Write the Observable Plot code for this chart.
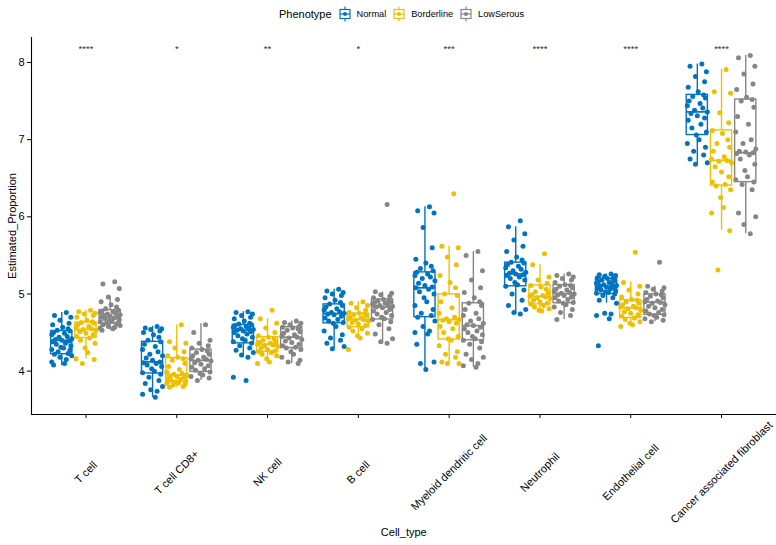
<!DOCTYPE html>
<html>
<head>
<meta charset="utf-8">
<script src="https://cdn.jsdelivr.net/npm/d3@7"></script>
<script src="https://cdn.jsdelivr.net/npm/@observablehq/plot@0.6"></script>
<style>
  html, body { margin: 0; padding: 0; background: #fff; }
  #wrap { position: relative; width: 776px; height: 545px; font-family: "Liberation Sans", Arial, sans-serif; }
  #legend { position: absolute; left: 279px; top: 5px; display: flex; align-items: center; height: 18px; color: #000; }
  #legend .title { font-size: 11px; margin-right: 7px; }
  #legend .lab { font-size: 9.2px; margin-left: 6px; margin-right: 7px; }
  #chart { position: absolute; left: 0; top: 0; }
</style>
</head>
<body>
<div id="wrap">
  <div id="chart"></div>
  <div id="legend"></div>
</div>
<script>
// ---------- data ----------
const cellTypes = ["T cell", "T cell CD8+", "NK cell", "B cell", "Myeloid dendritic cell", "Neutrophil", "Endothelial cell", "Cancer associated fibroblast"];
const phenotypes = ["Normal", "Borderline", "LowSerous"];
const phenoColors = ["#0073C2", "#EFC000", "#868686"];
const sigLabels = ["****", "*", "**", "*", "***", "****", "****", "****"];
const sigY = 8.17;
const yTicks = [4, 5, 6, 7, 8];

// box stats per cell type: [whisker low, Q1, median, Q3, whisker high]
const normalBox = [
  [4.07, 4.22, 4.40, 4.52, 4.76],
  [3.66, 3.97, 4.12, 4.38, 4.58],
  [4.18, 4.36, 4.53, 4.60, 4.77],
  [4.29, 4.62, 4.745, 4.865, 5.06],
  [4.00, 4.70, 5.08, 5.28, 6.13],
  [4.735, 5.10, 5.26, 5.406, 5.87],
  [4.88, 5.00, 5.10, 5.20, 5.26],
  [6.68, 7.06, 7.36, 7.58, 7.98]
];
const borderlineBox = [
  [4.16, 4.43, 4.54, 4.63, 4.79],
  [3.79, 3.86, 3.95, 4.17, 4.60],
  [4.10, 4.25, 4.35, 4.44, 4.68],
  [4.43, 4.57, 4.67, 4.745, 4.90],
  [4.10, 4.41, 4.667, 4.995, 5.62],
  [4.78, 4.865, 4.97, 5.11, 5.38],
  [4.58, 4.69, 4.82, 4.92, 5.155],
  [5.825, 6.405, 6.733, 7.12, 7.91]
];
const lowSerousBox = [
  [4.53, 4.615, 4.70, 4.79, 4.96],
  [3.88, 3.99, 4.14, 4.28, 4.615],
  [4.10, 4.30, 4.44, 4.57, 4.65],
  [4.355, 4.67, 4.83, 4.93, 5.025],
  [4.05, 4.40, 4.59, 4.88, 5.55],
  [4.67, 4.88, 5.005, 5.115, 5.26],
  [4.64, 4.73, 4.895, 4.995, 5.10],
  [5.78, 6.45, 6.83, 7.52, 8.09]
];

// individual samples (read from the jittered points)
const normalPoints = [
  [4.76, 4.72, 4.70, 4.66, 4.62, 4.60, 4.57, 4.55, 4.53, 4.52, 4.50, 4.49, 4.47, 4.45, 4.44, 4.42, 4.41, 4.40, 4.39, 4.38, 4.36, 4.35, 4.33, 4.31, 4.30, 4.28, 4.27, 4.25, 4.23, 4.22, 4.20, 4.18, 4.15, 4.12, 4.10, 4.08],
  [4.58, 4.56, 4.55, 4.54, 4.52, 4.50, 4.47, 4.44, 4.40, 4.38, 4.35, 4.32, 4.28, 4.25, 4.22, 4.20, 4.17, 4.14, 4.12, 4.11, 4.10, 4.08, 4.06, 4.03, 4.00, 3.98, 3.96, 3.92, 3.88, 3.84, 3.80, 3.76, 3.74, 3.70, 3.66],
  [4.77, 4.76, 4.74, 4.72, 4.70, 4.68, 4.65, 4.62, 4.61, 4.60, 4.59, 4.58, 4.57, 4.56, 4.55, 4.54, 4.53, 4.52, 4.51, 4.50, 4.48, 4.46, 4.44, 4.42, 4.40, 4.38, 4.36, 4.33, 4.30, 4.27, 4.24, 4.21, 4.18, 3.92, 3.88],
  [5.06, 5.04, 5.02, 5.00, 4.98, 4.95, 4.92, 4.89, 4.87, 4.85, 4.83, 4.81, 4.79, 4.77, 4.76, 4.75, 4.74, 4.73, 4.71, 4.69, 4.67, 4.65, 4.63, 4.62, 4.58, 4.52, 4.47, 4.43, 4.40, 4.36, 4.32, 4.29],
  [6.13, 6.08, 6.05, 5.86, 5.60, 5.45, 5.40, 5.36, 5.33, 5.30, 5.28, 5.26, 5.24, 5.22, 5.20, 5.17, 5.14, 5.11, 5.09, 5.08, 5.06, 5.03, 5.00, 4.95, 4.90, 4.85, 4.80, 4.75, 4.72, 4.70, 4.65, 4.58, 4.52, 4.50, 4.48, 4.35, 4.12, 4.10, 4.02],
  [5.95, 5.87, 5.78, 5.70, 5.62, 5.55, 5.48, 5.44, 5.41, 5.40, 5.38, 5.36, 5.34, 5.32, 5.30, 5.28, 5.27, 5.26, 5.25, 5.24, 5.22, 5.20, 5.18, 5.15, 5.12, 5.10, 5.05, 5.00, 4.92, 4.85, 4.80, 4.76, 4.74],
  [5.26, 5.25, 5.24, 5.23, 5.22, 5.21, 5.20, 5.19, 5.18, 5.17, 5.16, 5.15, 5.14, 5.13, 5.12, 5.11, 5.10, 5.09, 5.08, 5.07, 5.06, 5.05, 5.04, 5.03, 5.02, 5.01, 5.00, 4.98, 4.95, 4.92, 4.88, 4.75, 4.74, 4.72, 4.68, 4.33],
  [7.98, 7.95, 7.88, 7.82, 7.75, 7.68, 7.62, 7.58, 7.56, 7.54, 7.50, 7.47, 7.44, 7.41, 7.38, 7.36, 7.34, 7.31, 7.28, 7.25, 7.20, 7.15, 7.10, 7.06, 7.00, 6.95, 6.90, 6.85, 6.80, 6.75, 6.70, 6.68]
];
const borderlinePoints = [
  [4.79, 4.77, 4.75, 4.74, 4.72, 4.70, 4.66, 4.64, 4.63, 4.62, 4.60, 4.58, 4.56, 4.55, 4.54, 4.53, 4.51, 4.49, 4.47, 4.45, 4.43, 4.40, 4.36, 4.30, 4.24, 4.16, 4.15, 4.10],
  [4.60, 4.38, 4.36, 4.30, 4.25, 4.20, 4.18, 4.16, 4.14, 4.10, 4.06, 4.02, 3.99, 3.97, 3.96, 3.95, 3.94, 3.93, 3.92, 3.90, 3.89, 3.88, 3.87, 3.86, 3.85, 3.84, 3.83, 3.82, 3.80, 3.79],
  [4.79, 4.68, 4.62, 4.56, 4.50, 4.46, 4.44, 4.42, 4.40, 4.38, 4.37, 4.36, 4.35, 4.34, 4.33, 4.32, 4.30, 4.28, 4.26, 4.25, 4.24, 4.22, 4.20, 4.16, 4.12, 4.10],
  [4.90, 4.88, 4.85, 4.82, 4.79, 4.76, 4.75, 4.74, 4.73, 4.72, 4.70, 4.69, 4.68, 4.67, 4.66, 4.65, 4.63, 4.61, 4.59, 4.57, 4.55, 4.52, 4.49, 4.46, 4.43, 4.28],
  [6.30, 5.62, 5.60, 5.48, 5.38, 5.24, 5.15, 5.08, 5.00, 4.98, 4.90, 4.82, 4.75, 4.70, 4.68, 4.67, 4.66, 4.64, 4.62, 4.58, 4.55, 4.50, 4.45, 4.42, 4.40, 4.33, 4.25, 4.22, 4.18, 4.12, 4.10, 4.10],
  [5.52, 5.38, 5.22, 5.18, 5.14, 5.11, 5.09, 5.06, 5.03, 5.01, 4.99, 4.98, 4.97, 4.96, 4.95, 4.94, 4.92, 4.90, 4.88, 4.87, 4.85, 4.83, 4.81, 4.79, 4.78],
  [5.54, 5.15, 5.10, 5.05, 5.00, 4.96, 4.93, 4.92, 4.90, 4.88, 4.86, 4.84, 4.83, 4.82, 4.81, 4.79, 4.77, 4.75, 4.73, 4.71, 4.69, 4.67, 4.64, 4.62, 4.60, 4.58],
  [7.91, 7.62, 7.60, 7.35, 7.22, 7.12, 7.08, 7.00, 6.95, 6.90, 6.85, 6.78, 6.75, 6.73, 6.72, 6.70, 6.65, 6.58, 6.52, 6.45, 6.42, 6.40, 6.35, 6.25, 6.12, 6.05, 5.82, 5.31]
];
const lowSerousPoints = [
  [5.16, 5.13, 5.07, 4.96, 4.93, 4.90, 4.86, 4.83, 4.81, 4.79, 4.78, 4.77, 4.76, 4.75, 4.74, 4.73, 4.72, 4.71, 4.70, 4.70, 4.69, 4.68, 4.67, 4.66, 4.65, 4.64, 4.63, 4.62, 4.61, 4.60, 4.59, 4.58, 4.57, 4.56, 4.55, 4.53],
  [4.60, 4.50, 4.40, 4.36, 4.33, 4.30, 4.28, 4.26, 4.24, 4.22, 4.20, 4.18, 4.16, 4.15, 4.14, 4.13, 4.11, 4.09, 4.07, 4.05, 4.03, 4.01, 3.99, 3.97, 3.95, 3.93, 3.91, 3.88],
  [4.65, 4.63, 4.62, 4.60, 4.58, 4.57, 4.56, 4.55, 4.53, 4.51, 4.49, 4.47, 4.45, 4.44, 4.43, 4.41, 4.39, 4.37, 4.35, 4.33, 4.31, 4.30, 4.28, 4.25, 4.22, 4.18, 4.14, 4.12, 4.10],
  [6.16, 5.03, 5.01, 4.99, 4.97, 4.95, 4.93, 4.92, 4.91, 4.90, 4.89, 4.88, 4.87, 4.86, 4.85, 4.84, 4.83, 4.82, 4.80, 4.78, 4.76, 4.74, 4.72, 4.70, 4.68, 4.67, 4.64, 4.60, 4.55, 4.48, 4.42, 4.38, 4.36],
  [5.55, 5.50, 5.30, 5.18, 5.08, 5.02, 4.95, 4.90, 4.88, 4.85, 4.80, 4.75, 4.72, 4.68, 4.65, 4.62, 4.60, 4.59, 4.57, 4.55, 4.52, 4.50, 4.47, 4.45, 4.42, 4.40, 4.38, 4.35, 4.30, 4.22, 4.18, 4.15, 4.10, 4.07, 4.05],
  [5.26, 5.24, 5.22, 5.20, 5.18, 5.15, 5.12, 5.11, 5.10, 5.08, 5.06, 5.05, 5.04, 5.02, 5.01, 5.00, 4.99, 4.98, 4.96, 4.95, 4.93, 4.91, 4.89, 4.88, 4.86, 4.83, 4.80, 4.76, 4.72, 4.67],
  [5.41, 5.10, 5.08, 5.06, 5.04, 5.02, 5.00, 4.99, 4.97, 4.95, 4.93, 4.91, 4.90, 4.89, 4.88, 4.86, 4.84, 4.82, 4.80, 4.78, 4.76, 4.74, 4.73, 4.72, 4.70, 4.68, 4.66, 4.64],
  [8.09, 8.06, 7.95, 7.85, 7.72, 7.65, 7.55, 7.52, 7.50, 7.42, 7.30, 7.20, 7.10, 7.00, 6.95, 6.88, 6.85, 6.84, 6.83, 6.82, 6.80, 6.75, 6.68, 6.60, 6.52, 6.48, 6.45, 6.42, 6.35, 6.05, 6.00, 5.90, 5.78]
];

// horizontal jitter of the points, in category units
const jitterOffsets = [0.05, -0.08, 0.10, -0.02, 0.08, -0.10, 0.01, 0.07, -0.05, 0.09, -0.09, 0.03, -0.11, 0.06, -0.03, 0.11, -0.07, 0.00, 0.08, -0.10, 0.04, -0.06, 0.10, -0.01, 0.02, -0.11, 0.09, -0.04, 0.07, -0.08, 0.11, -0.02, 0.05, -0.11, 0.03, -0.09, 0.10, -0.05, 0.01, -0.07];

// ---------- layout helpers ----------
const dodge = [-0.2667, 0, 0.2667];
const boxHalf = 0.1167;
const boxSets = [normalBox, borderlineBox, lowSerousBox];
const pointSets = [normalPoints, borderlinePoints, lowSerousPoints];

const boxes = [];
const points = [];
phenotypes.forEach((p, pi) => {
  cellTypes.forEach((c, ci) => {
    const [lo, q1, med, q3, hi] = boxSets[pi][ci];
    const xc = ci + dodge[pi];
    boxes.push({phenotype: p, x: xc, x1: xc - boxHalf, x2: xc + boxHalf, lo, q1, med, q3, hi});
    pointSets[pi][ci].forEach((v, k) => {
      points.push({phenotype: p, x: xc + jitterOffsets[k % jitterOffsets.length], y: v});
    });
  });
});

const font = "'Liberation Sans', Arial, sans-serif";

const chart = Plot.plot({
  width: 776,
  height: 545,
  marginLeft: 31,
  marginRight: 0.5,
  marginTop: 37,
  marginBottom: 131,
  style: {fontFamily: font, fontSize: "11px", color: "#000", background: "#fff", overflow: "visible"},
  x: {type: "linear", domain: [-0.6, 7.6], axis: null},
  y: {domain: [3.438, 8.324], axis: null},
  color: {domain: phenotypes, range: phenoColors},
  marks: [
    Plot.ruleX(boxes, {x: "x", y1: "lo", y2: "hi", stroke: "phenotype", strokeWidth: 1.4}),
    Plot.rect(boxes, {x1: "x1", x2: "x2", y1: "q1", y2: "q3", fill: "white", stroke: "phenotype", strokeWidth: 1.4}),
    Plot.ruleY(boxes, {y: "med", x1: "x1", x2: "x2", stroke: "phenotype", strokeWidth: 1.7}),
    Plot.dot(points, {x: "x", y: "y", fill: "phenotype", r: 2.5}),
    Plot.text(cellTypes, {x: (d, i) => i, y: () => sigY, text: (d, i) => sigLabels[i], fontSize: 9.5, fill: "#333"}),
    Plot.frame({anchor: "left", stroke: "#000", strokeWidth: 1.1}),
    Plot.frame({anchor: "bottom", stroke: "#000", strokeWidth: 1.1}),
    Plot.axisY({ticks: yTicks, tickFormat: d3.format("d"), tickSize: 4, tickPadding: 3, label: null, fontSize: 11}),
    Plot.axisX({ticks: d3.range(cellTypes.length), tickSize: 4, tickFormat: () => "", label: null}),
    Plot.text(cellTypes, {x: (d, i) => i, text: d => d, frameAnchor: "bottom", dy: 58, rotate: -45, textAnchor: "middle", lineAnchor: "middle", fontSize: 11, fill: "#000"}),
    Plot.text(["Estimated_Proportion"], {frameAnchor: "left", dx: -19, rotate: -90, textAnchor: "middle", lineAnchor: "middle", fontSize: 11, fill: "#000"}),
    Plot.text(["Cell_type"], {frameAnchor: "bottom", dy: 118, textAnchor: "middle", lineAnchor: "middle", fontSize: 11, fill: "#000"})
  ]
});
document.getElementById("chart").appendChild(chart);

// ---------- legend ----------
const legend = d3.select("#legend");
legend.append("span").attr("class", "title").text("Phenotype");
phenotypes.forEach((p, i) => {
  const col = phenoColors[i];
  const s = legend.append("svg").attr("width", 12).attr("height", 16);
  s.append("line").attr("x1", 6).attr("x2", 6).attr("y1", 0.5).attr("y2", 15.5).attr("stroke", col).attr("stroke-width", 1.2);
  s.append("rect").attr("x", 1).attr("y", 3.5).attr("width", 10).attr("height", 9).attr("fill", "white").attr("stroke", col).attr("stroke-width", 1.2);
  s.append("line").attr("x1", 1).attr("x2", 11).attr("y1", 8).attr("y2", 8).attr("stroke", col).attr("stroke-width", 1.2);
  s.append("circle").attr("cx", 6).attr("cy", 8).attr("r", 2).attr("fill", col);
  legend.append("span").attr("class", "lab").text(p);
});
</script>
</body>
</html>
